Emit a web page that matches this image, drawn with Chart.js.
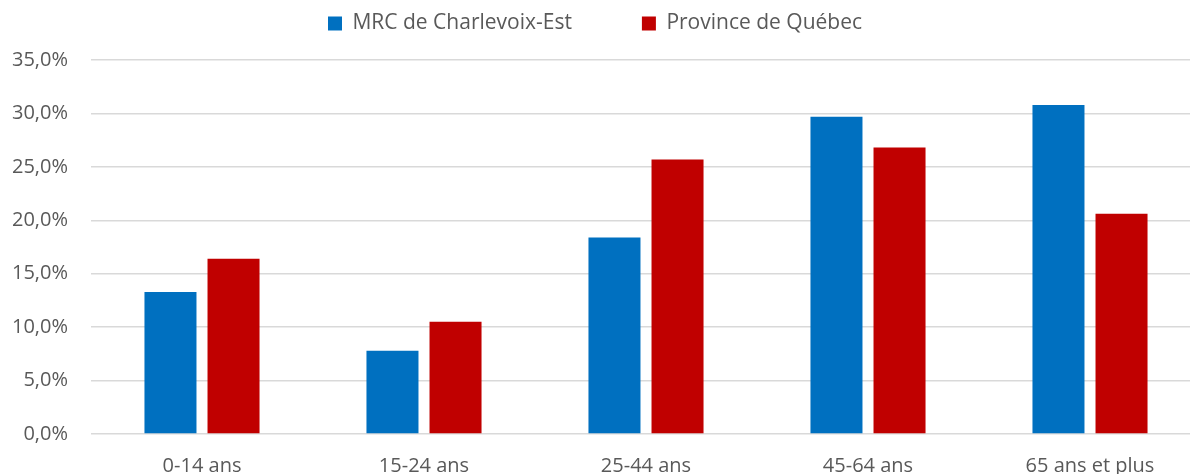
<!DOCTYPE html>
<html>
<head>
<meta charset="utf-8">
<script src="https://cdn.jsdelivr.net/npm/chart.js@4"></script>
<style>
  html, body { margin: 0; padding: 0; background: #fff; }
  #wrap { width: 1190px; height: 474px; }
</style>
</head>
<body>
<div id="wrap"><canvas id="ageChart"></canvas></div>
<script>
// age groups and shares (%)
const categories = ['0-14 ans', '15-24 ans', '25-44 ans', '45-64 ans', '65 ans et plus'];
const charlevoixEst = [13.3, 7.8, 18.4, 29.7, 30.8];
const quebec = [16.4, 10.5, 25.7, 26.8, 20.6];
const yTicks = [0, 5, 10, 15, 20, 25, 30, 35];

const fontFamily = "'Open Sans', sans-serif";
const textColor = '#595959';
const legendGap = 70;

// shrink the legend box and pull it up, so the wide item gap does not push the plot down
const legendTweak = {
    id: 'legendTweak',
    beforeLayout(chart) {
        const legend = chart.legend;
        if (!legend || legend._patched) return;
        const fit = legend.fit;
        legend.fit = function () {
            fit.call(this);
            this.height = 60;
        };
        const draw = legend.draw;
        legend.draw = function () {
            const t = this.top;
            this.top = t - (legendGap - 13);
            draw.call(this);
            this.top = t;
        };
        legend._patched = true;
    },
    // the category axis of the original runs a bit past the right edge of the picture
    afterLayout(chart) {
        const x = chart.scales.x;
        x.right = x.left + 1110;
        x.width = 1110;
        x.configure();
    }
};

const ctx = document.getElementById('ageChart').getContext('2d');
new Chart(ctx, {
    type: 'bar',
    data: {
        labels: categories,
        datasets: [
            {
                label: 'MRC de Charlevoix-Est',
                data: charlevoixEst,
                backgroundColor: '#0070C0',
                categoryPercentage: 0.568,
                barPercentage: 0.825
            },
            {
                label: 'Province de Québec',
                data: quebec,
                backgroundColor: '#C00000',
                categoryPercentage: 0.568,
                barPercentage: 0.825
            }
        ]
    },
    options: {
        responsive: true,
        maintainAspectRatio: false,
        animation: false,
        layout: { padding: 0 },
        plugins: {
            legend: {
                position: 'top',
                labels: {
                    boxWidth: 14,
                    boxHeight: 14,
                    padding: legendGap,
                    color: textColor,
                    font: { family: fontFamily, size: 21 }
                }
            },
            tooltip: { enabled: false }
        },
        scales: {
            x: {
                grid: { display: false },
                border: { display: false },
                ticks: {
                    color: textColor,
                    padding: 12,
                    font: { family: fontFamily, size: 20 }
                },
                afterFit(scale) { scale.height = 40; }
            },
            y: {
                min: 0,
                max: 35,
                afterBuildTicks(scale) {
                    scale.ticks = yTicks.map(v => ({ value: v }));
                },
                grid: { color: '#d9d9d9', lineWidth: 1.5, drawTicks: false },
                border: { display: false },
                ticks: {
                    color: textColor,
                    padding: 23,
                    font: { family: fontFamily, size: 20 },
                    callback: v => v.toFixed(1).replace('.', ',') + '%'
                },
                afterFit(scale) { scale.width = 91; }
            }
        }
    },
    plugins: [legendTweak]
});
</script>
</body>
</html>
